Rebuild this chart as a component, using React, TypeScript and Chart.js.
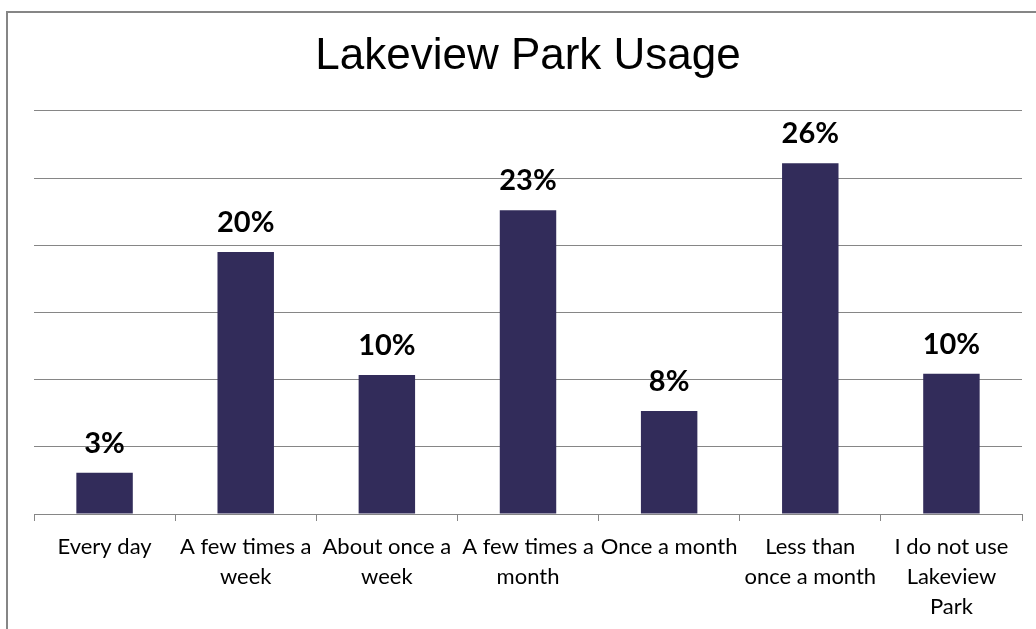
import React, { useEffect, useRef } from "react";
import { Chart, registerables } from "chart.js";

Chart.register(...registerables);

const categories: string[][] = [
  ["Every day"],
  ["A few times a", "week"],
  ["About once a", "week"],
  ["A few times a", "month"],
  ["Once a month"],
  ["Less than", "once a month"],
  ["I do not use", "Lakeview", "Park"],
];
const values: number[] = [3.07, 19.5, 10.35, 22.6, 7.66, 26.1, 10.44];
const valueLabels: string[] = ["3%", "20%", "10%", "23%", "8%", "26%", "10%"];
const yTicks = { min: 0, max: 30, step: 5 };
const title = "Lakeview Park Usage";

const BAR = "#322C5A";
const GRID = "#868686";

const framePlugin = {
  id: "frame",
  beforeDraw(chart: any) {
    const { ctx, width, height } = chart;
    ctx.save();
    ctx.fillStyle = "#ffffff";
    ctx.fillRect(0, 0, width, height);
    ctx.strokeStyle = GRID;
    ctx.lineWidth = 2;
    ctx.beginPath();
    ctx.moveTo(7, height + 2);
    ctx.lineTo(7, 12);
    ctx.lineTo(width + 2, 12);
    ctx.stroke();
    ctx.restore();
  },
};

const valueLabelPlugin = {
  id: "valueLabels",
  afterDatasetsDraw(chart: any) {
    const { ctx } = chart;
    const meta = chart.getDatasetMeta(0);
    ctx.save();
    ctx.font = "bold 29px Lato";
    ctx.fillStyle = "#000000";
    ctx.textAlign = "center";
    ctx.textBaseline = "alphabetic";
    meta.data.forEach((bar: any, i: number) => {
      ctx.fillText(valueLabels[i], bar.x, bar.y - 20);
    });
    ctx.restore();
  },
};

export default function App() {
  const ref = useRef<HTMLCanvasElement | null>(null);
  useEffect(() => {
    document.body.style.margin = "0";
    if (!ref.current) return;
    const chart = new Chart(ref.current, {
      type: "bar",
      data: {
        labels: categories,
        datasets: [
          {
            data: values,
            backgroundColor: BAR,
            borderWidth: 0,
            barPercentage: 0.4,
            categoryPercentage: 1,
          },
        ],
      },
      options: {
        responsive: false,
        animation: false,
        layout: { padding: { left: 34, right: 14, top: 0, bottom: 0 } },
        plugins: {
          legend: { display: false },
          tooltip: { enabled: false },
          title: {
            display: true,
            text: title,
            color: "#000000",
            font: { family: "Liberation Sans", size: 44, weight: "normal", lineHeight: 1.2 },
            padding: { top: 30, bottom: 28 },
          },
        },
        scales: {
          x: {
            afterFit: (scale: any) => {
              scale.height = 115;
            },
            grid: {
              display: true,
              drawOnChartArea: false,
              drawTicks: true,
              tickLength: 7,
              color: GRID,
              offset: true,
            },
            border: { display: true, color: GRID, width: 1 },
            ticks: {
              color: "#000000",
              font: { family: "Lato", size: 22, lineHeight: 1.36 },
              maxRotation: 0,
              minRotation: 0,
              autoSkip: false,
              padding: 11,
            },
          },
          y: {
            min: yTicks.min,
            max: yTicks.max,
            ticks: { display: false, stepSize: yTicks.step },
            grid: { color: GRID, drawTicks: false, lineWidth: 1 },
            border: { display: false },
          },
        },
      },
      plugins: [framePlugin, valueLabelPlugin],
    });
    return () => chart.destroy();
  }, []);
  return (
    <div style={{ width: 1036, height: 629 }}>
      <canvas ref={ref} width={1036} height={629} style={{ display: "block" }} />
    </div>
  );
}
